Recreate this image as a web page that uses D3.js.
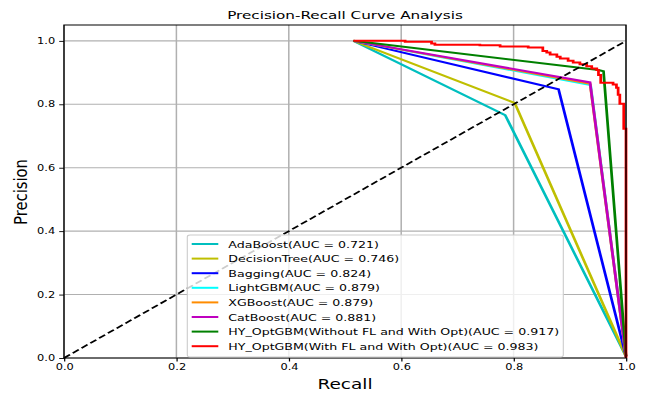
<!DOCTYPE html>
<html>
<head>
<meta charset="utf-8">
<script src="https://cdn.jsdelivr.net/npm/d3@7"></script>
<style>
  body { margin: 0; background: #fff; }
  text { font-family: "DejaVu Sans", sans-serif; }
</style>
</head>
<body>
<div id="pr_plot"></div>
<script>
// the picture looks stretched sideways, so draw in a narrower box and let
// the viewBox widen it (this also makes upright strokes a bit thicker)
var SX = 1.37,
  svg_dx = 649,
  svg_dy = 396;

// data: [recall, precision]
var adaboost = [[0.515, 1.0], [0.785, 0.766], [1.0, 0.005]];
var decisionTree = [[0.515, 1.0], [0.802, 0.804], [1.0, 0.005]];
var bagging = [[0.515, 1.0], [0.880, 0.847], [1.0, 0.005]];
var lightgbm = [[0.515, 1.0], [0.937, 0.861], [1.0, 0.005]];
var xgboost = [[0.515, 1.0], [0.936, 0.865], [1.0, 0.005]];
var catboost = [[0.515, 1.0], [0.936, 0.869], [1.0, 0.005]];
var hyNoFL = [[0.515, 1.0], [0.951, 0.908], [0.960, 0.904], [1.0, 0.005]];
// this one is a staircase (drawn with curveStepAfter)
var hyFL = [
  [0.515, 1.0], [0.607, 0.997], [0.654, 0.992], [0.660, 0.988],
  [0.740, 0.986], [0.776, 0.982], [0.826, 0.979], [0.852, 0.968],
  [0.859, 0.963], [0.865, 0.957], [0.877, 0.950], [0.883, 0.944], [0.897, 0.937],
  [0.906, 0.932], [0.918, 0.926], [0.930, 0.920], [0.939, 0.913], [0.948, 0.908],
  [0.951, 0.892], [0.955, 0.868], [0.977, 0.862], [0.983, 0.852], [0.986, 0.830],
  [0.989, 0.802], [0.996, 0.723], [1.0, 0.0]
];

var seriesNames = [
  "AdaBoost(AUC = 0.721)",
  "DecisionTree(AUC = 0.746)",
  "Bagging(AUC = 0.824)",
  "LightGBM(AUC = 0.879)",
  "XGBoost(AUC = 0.879)",
  "CatBoost(AUC = 0.881)",
  "HY_OptGBM(Without FL and With Opt)(AUC = 0.917)",
  "HY_OptGBM(With FL and With Opt)(AUC = 0.983)"
];
var seriesData = [adaboost, decisionTree, bagging, lightgbm, xgboost, catboost, hyNoFL, hyFL];
var seriesColors = ["#00bfbf", "#bfbf00", "#0000ff", "#00ffff", "#ff8c00", "#bf00bf", "#008000", "#ff0000"];

var xTicks = [0, 0.2, 0.4, 0.6, 0.8, 1.0];
var yTicks = [0, 0.2, 0.4, 0.6, 0.8, 1.0];

// note: "top" is taken by window.top, so use plot_* names
var plot_left = 64 / SX,
  plot_right = 626 / SX,
  plot_top = 25,
  plot_bottom = 358;

var x = d3.scaleLinear().domain([0, 1]).range([plot_left, plot_right]),
  y = d3.scaleLinear().domain([0, 1.05]).range([plot_bottom, plot_top]);

var svg = d3.select("#pr_plot")
  .append("svg")
  .attr("width", svg_dx)
  .attr("height", svg_dy)
  .attr("viewBox", "0 0 " + (svg_dx / SX) + " " + svg_dy)
  .attr("preserveAspectRatio", "none");

// grid
var grid = svg.append("g").attr("class", "grid");
grid.selectAll(".gx")
  .data(xTicks)
  .enter()
  .append("line")
  .attr("x1", d => x(d)).attr("x2", d => x(d))
  .attr("y1", plot_top).attr("y2", plot_bottom)
  .attr("stroke", "#b0b0b0")
  .attr("stroke-width", 1.1);
grid.selectAll(".gy")
  .data(yTicks)
  .enter()
  .append("line")
  .attr("x1", plot_left).attr("x2", plot_right)
  .attr("y1", d => y(d)).attr("y2", d => y(d))
  .attr("stroke", "#b0b0b0")
  .attr("stroke-width", 1.1);

// the curves
var line = d3.line()
  .x(d => x(d[0]))
  .y(d => y(d[1]));
var stepLine = d3.line()
  .curve(d3.curveStepAfter)
  .x(d => x(d[0]))
  .y(d => y(d[1]));

svg.append("g")
  .selectAll("path")
  .data(seriesData)
  .enter()
  .append("path")
  .attr("d", d => (d === hyFL ? stepLine(d) : line(d)))
  .attr("fill", "none")
  .attr("stroke", (d, i) => seriesColors[i])
  .attr("stroke-width", 2)
  .attr("stroke-linejoin", "miter");

// chance line
svg.append("path")
  .datum([[0, 0], [1, 1]])
  .attr("d", line)
  .attr("fill", "none")
  .attr("stroke", "#000")
  .attr("stroke-width", 1.6)
  .attr("stroke-dasharray", "5.5,2.6");

// axes
var xAxis = d3.axisBottom(x)
  .tickValues(xTicks)
  .tickFormat(d3.format(".1f"))
  .tickSize(3.5)
  .tickPadding(3);
var yAxis = d3.axisLeft(y)
  .tickValues(yTicks)
  .tickFormat(d3.format(".1f"))
  .tickSize(3.5)
  .tickPadding(3);

var gx = svg.append("g")
  .attr("transform", "translate(0," + plot_bottom + ")")
  .call(xAxis);
var gy = svg.append("g")
  .attr("transform", "translate(" + plot_left + ",0)")
  .call(yAxis);
[gx, gy].forEach(function(g) {
  g.select(".domain").remove();
  g.selectAll("text")
    .attr("font-family", "DejaVu Sans")
    .attr("font-size", 8.3)
    .attr("fill", "#000");
  g.selectAll("line").attr("stroke", "#000").attr("stroke-width", 0.9);
});

// frame
svg.append("rect")
  .attr("x", plot_left)
  .attr("y", plot_top)
  .attr("width", plot_right - plot_left)
  .attr("height", plot_bottom - plot_top)
  .attr("fill", "none")
  .attr("stroke", "#000")
  .attr("stroke-width", 1);

// legend
var lg = svg.append("g").attr("class", "legend");
lg.append("rect")
  .attr("x", 187.3 / SX)
  .attr("y", 235)
  .attr("width", (563.3 - 187.3) / SX)
  .attr("height", 122)
  .attr("rx", 2)
  .attr("fill", "#fff")
  .attr("fill-opacity", 0.8)
  .attr("stroke", "#cccccc")
  .attr("stroke-width", 0.8);

var rows = lg.selectAll(".row")
  .data(seriesNames)
  .enter()
  .append("g")
  .attr("transform", (d, i) => "translate(0," + (244 + i * 14.6) + ")");
rows.append("line")
  .attr("x1", 191.7 / SX)
  .attr("x2", 218.3 / SX)
  .attr("stroke", (d, i) => seriesColors[i])
  .attr("stroke-width", 2);
rows.append("text")
  .attr("x", 228.3 / SX)
  .attr("y", 3.5)
  .attr("font-size", 9.2)
  .text(d => d);

// title and labels
svg.append("text")
  .attr("x", 345 / SX)
  .attr("y", 19.5)
  .attr("text-anchor", "middle")
  .attr("font-size", 11.1)
  .text("Precision-Recall Curve Analysis");

svg.append("text")
  .attr("x", 345 / SX)
  .attr("y", 389.5)
  .attr("text-anchor", "middle")
  .attr("font-size", 13.5)
  .text("Recall");

svg.append("text")
  .attr("transform", "translate(" + (27.3 / SX) + ",192) rotate(-90)")
  .attr("text-anchor", "middle")
  .attr("font-size", 12.8)
  .attr("textLength", 66)
  .attr("lengthAdjust", "spacingAndGlyphs")
  .text("Precision");
</script>
</body>
</html>
